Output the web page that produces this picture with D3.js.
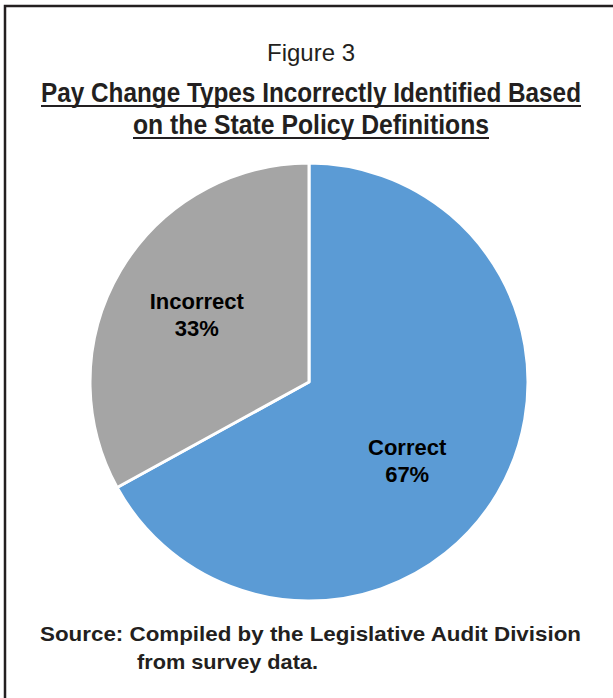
<!DOCTYPE html>
<html>
<head>
<meta charset="utf-8">
<script src="https://cdn.jsdelivr.net/npm/d3@7"></script>
<style>
  body { margin: 0; background: #fff; }
  svg text { font-family: "Liberation Sans Narrow", "Arial Narrow", "Liberation Sans", Arial, sans-serif; fill: #231f20; }
</style>
</head>
<body>
<div id="chart"></div>
<script>
// data
var categories = ["Correct", "Incorrect"];
var values = [67, 33];
var colors = ["#5b9bd5", "#a5a5a5"];

var width = 613, height = 698;
var svg = d3.select("#chart").append("svg").attr("width", width).attr("height", height);

// frame (runs off right and bottom like the scan)
svg.append("rect")
    .attr("x", 5).attr("y", 6)
    .attr("width", 640).attr("height", 720)
    .attr("fill", "none").attr("stroke", "#231f20").attr("stroke-width", 2.5);

// titles
svg.append("text").attr("x", 311).attr("y", 61)
    .attr("text-anchor", "middle").attr("font-size", 24)
    .attr("textLength", 88).attr("lengthAdjust", "spacingAndGlyphs")
    .text("Figure 3");

var titleLines = [
    {t: "Pay Change Types Incorrectly Identified Based", y: 102, w: 540},
    {t: "on the State Policy Definitions", y: 134, w: 356}
];
titleLines.forEach(function(l) {
    svg.append("text").attr("x", 311).attr("y", l.y)
        .attr("text-anchor", "middle").attr("font-size", 27).attr("font-weight", "bold")
        .attr("textLength", l.w).attr("lengthAdjust", "spacingAndGlyphs")
        .text(l.t);
    svg.append("line")
        .attr("x1", 311 - l.w / 2).attr("x2", 311 + l.w / 2)
        .attr("y1", l.y + 4).attr("y2", l.y + 4)
        .attr("stroke", "#231f20").attr("stroke-width", 2);
});

// pie
var cx = 309, cy = 382, radius = 219;
var g = svg.append("g").attr("transform", "translate(" + cx + "," + cy + ")");

var pie = d3.pie().sort(null).value(function(d) { return d; });
var arc = d3.arc().innerRadius(0).outerRadius(radius);
var arcs = pie(values);

g.selectAll("path.slice")
    .data(arcs)
    .enter().append("path")
    .attr("class", "slice")
    .attr("d", arc)
    .attr("fill", function(d, i) { return colors[i]; })
    .attr("stroke", "#fff")
    .attr("stroke-width", 3)
    .attr("stroke-linejoin", "round");

// labels
var labelArc = d3.arc().innerRadius(128).outerRadius(128);
var nudge = [[-12, 14], [-2, -2]];
arcs.forEach(function(d, i) {
    var c = labelArc.centroid(d);
    var x = c[0] + nudge[i][0], y = c[1] + nudge[i][1];
    var t = g.append("text")
        .attr("text-anchor", "middle")
        .attr("font-size", 22).attr("font-weight", "bold")
        .style("font-family", "'Liberation Sans', Arial, sans-serif")
        .style("fill", "#000");
    t.append("tspan").attr("x", x).attr("y", y - 6).text(categories[i]);
    t.append("tspan").attr("x", x).attr("y", y + 21).text(Math.round(values[i]) + "%");
});

// source note
svg.append("text").attr("x", 40).attr("y", 641)
    .attr("font-size", 21).attr("font-weight", "bold")
    .attr("textLength", 541).attr("lengthAdjust", "spacingAndGlyphs")
    .text("Source:  Compiled by the Legislative Audit Division");
svg.append("text").attr("x", 137).attr("y", 669)
    .attr("font-size", 21).attr("font-weight", "bold")
    .attr("textLength", 181).attr("lengthAdjust", "spacingAndGlyphs")
    .text("from survey data.");
</script>
</body>
</html>
